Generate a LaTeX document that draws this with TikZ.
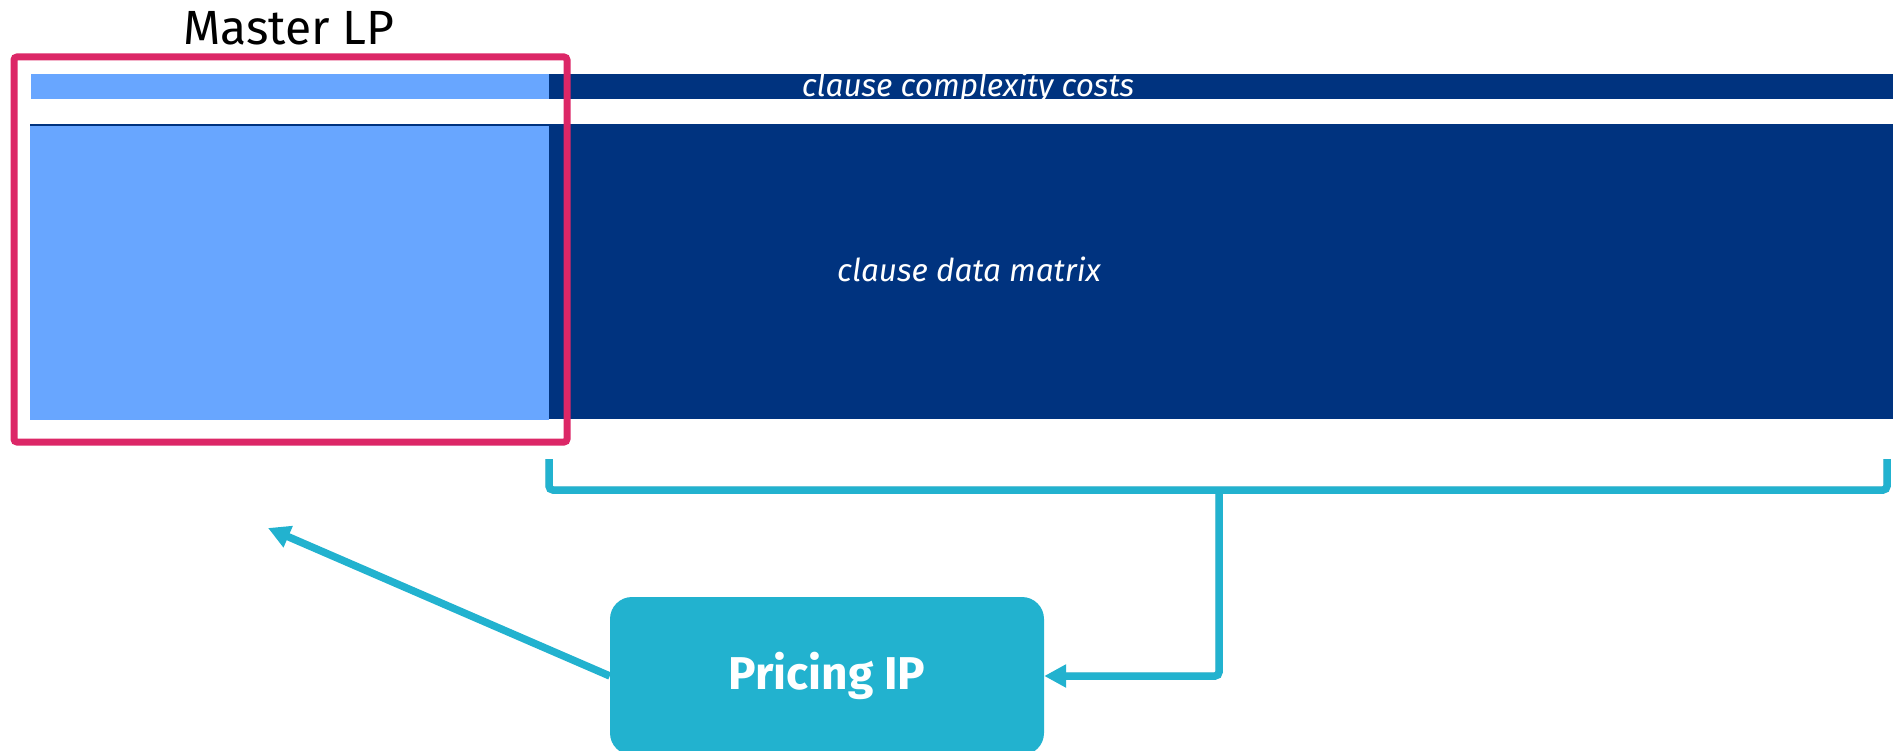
\documentclass[tikz,border=0pt]{standalone}
\usepackage{fontspec}
\setmainfont{Fira Sans}
\usetikzlibrary{arrows.meta}
\definecolor{lightbar}{HTML}{68A6FF}
\definecolor{darkbar}{HTML}{00337F}
\definecolor{pinkbox}{HTML}{DC2767}
\definecolor{cyanline}{HTML}{22B2CF}
\tikzset{
  conn/.style={draw=cyanline, line width=7.5pt, rounded corners=4pt},
  connshadow/.style={draw=black!20, line width=7.5pt, rounded corners=4pt, opacity=0.6},
  tip/.style={-{Triangle[length=22pt,width=22pt]}},
  bartext/.style={text=white, font=\itshape\fontsize{31.5}{34}\selectfont, inner sep=0pt},
}
\begin{document}
\begin{tikzpicture}[x=1pt,y=-1pt]
\useasboundingbox (0,0) rectangle (1893,751);
% bars
\fill[darkbar] (549,74) rectangle (1893,99);
\fill[lightbar] (31,74) rectangle (549,99);
\fill[darkbar] (30,124) rectangle (1893,419);
\fill[lightbar] (30,126) rectangle (549,420);
\node[bartext, anchor=base] (costs) at (968,97) {clause complexity costs};
\node[bartext, anchor=base] (datamat) at (969,282) {clause data matrix};
% master LP box
\draw[pinkbox, line width=7pt, rounded corners=3pt] (14,57) rectangle (567,442);
\node[anchor=base, inner sep=0pt, font=\fontsize{48}{52}\selectfont] (master) at (289,45) {Master LP};
% pricing box
\node[fill=cyanline, rounded corners=22pt, minimum width=434pt, minimum height=158pt,
      text=white, font=\bfseries\fontsize{46}{50}\selectfont] (pricing) at (827,676) {Pricing IP};
% bracket
\coordinate (bl) at (549,459);
\coordinate (br) at (1887,459);
\coordinate (bm) at (1219,490);
\coordinate (mlp) at (268,528);
\begin{scope}[shift={(2,4)}]
\draw[connshadow] (bl) |- (bm) -| (br);
\draw[connshadow] (bm) |- ([xshift=20pt]pricing.east);
\end{scope}
\draw[conn] (bl) |- (bm) -| (br);
\draw[conn, tip] (bm) |- (pricing.east);
\draw[conn, tip] (pricing.west) -- (mlp);
\end{tikzpicture}
\end{document}
